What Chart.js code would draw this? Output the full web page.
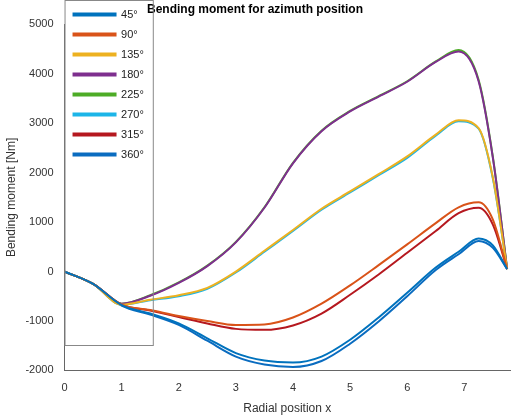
<!DOCTYPE html><html><head><script src="https://cdn.jsdelivr.net/npm/chart.js"></script>
<style>body{margin:0;background:#fff}#w{width:520px;height:420px}</style></head><body><div id="w"><canvas id="c"></canvas></div>
<script>
const labels=["45°","90°","135°","180°","225°","270°","315°","360°"];
const colors=["#0072BD","#D95319","#EDB120","#7E2F8E","#4DAC26","#1CB5E8","#B5181F","#0A6CC0"];
const xs=[0,0.5,1,1.5,2,2.5,3,3.5,4,4.5,5,5.5,6,6.5,6.9,7.25,7.5,7.75];
const s45=[0,-250,-680,-850,-1050,-1350,-1650,-1800,-1840,-1720,-1380,-930,-430,80,400,670,530,50];
const s90=[0,-250,-670,-780,-900,-1000,-1080,-1070,-930,-650,-280,130,550,980,1300,1400,1050,50];
const s135=[0,-250,-670,-570,-480,-330,0,420,840,1270,1620,1970,2330,2770,3060,2900,1900,50];
const s180=[0,-250,-650,-490,-230,110,590,1290,2190,2840,3240,3540,3840,4240,4450,3850,2300,50];
const s225=[0,-250,-650,-480,-220,120,600,1300,2200,2850,3250,3550,3850,4250,4480,3880,2320,50];
const s270=[0,-250,-670,-580,-500,-350,-20,400,820,1250,1600,1950,2300,2750,3040,2890,1880,50];
const s315=[0,-250,-670,-790,-920,-1050,-1160,-1180,-1090,-850,-470,-60,380,820,1180,1290,950,50];
const s360=[0,-250,-690,-870,-1080,-1400,-1720,-1880,-1930,-1810,-1460,-1010,-500,30,350,620,480,50];
const all=[s45,s90,s135,s180,s225,s270,s315,s360];
const legendBox={id:'lb',afterDraw(ch){const l=ch.legend;const c=ch.ctx;c.save();c.strokeStyle='#888';c.lineWidth=1;c.strokeRect(l.left+0.5,l.top+0.5,l.width-1,l.height-1);c.restore();}};
new Chart(document.getElementById('c'),{type:'line',plugins:[legendBox],
data:{datasets:all.map((s,i)=>({label:labels[i],data:s.map((y,j)=>({x:xs[j],y})),borderColor:colors[i],backgroundColor:colors[i],borderWidth:2,pointRadius:0,cubicInterpolationMode:'monotone'}))},
options:{responsive:true,maintainAspectRatio:false,animation:false,
layout:{padding:{right:10}},
plugins:{title:{display:true,text:'Bending moment for azimuth position',font:{family:'Liberation Sans',size:12,weight:'bold'},color:'#000',padding:{top:2,bottom:8}},
legend:{position:'chartArea',align:'start',maxWidth:90,labels:{boxWidth:42,boxHeight:2,padding:9,font:{family:'Liberation Sans',size:11},color:'#222'}},
tooltip:{enabled:false}},
scales:{x:{type:'linear',min:0,max:7.8,afterBuildTicks:a=>{a.ticks=a.ticks.filter(t=>Number.isInteger(t.value));},ticks:{stepSize:1,font:{family:'Liberation Sans',size:11},color:'#333'},grid:{display:false},border:{color:'#666'},title:{display:true,text:'Radial position x',font:{family:'Liberation Sans',size:12},color:'#333'}},
y:{min:-2000,max:5000,ticks:{stepSize:1000,callback:v=>String(v),font:{family:'Liberation Sans',size:11},color:'#333'},grid:{display:false},border:{color:'#666'},title:{display:true,text:'Bending moment [Nm]',font:{family:'Liberation Sans',size:12},color:'#333'}}}}});
</script></body></html>
